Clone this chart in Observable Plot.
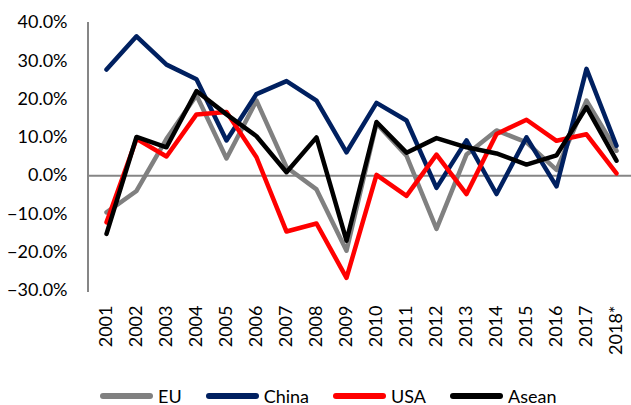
<!DOCTYPE html>
<html>
<head>
<meta charset="utf-8">
<script src="https://cdn.jsdelivr.net/npm/d3@7"></script>
<script src="https://cdn.jsdelivr.net/npm/@observablehq/plot@0.6"></script>
<style>
  html, body { margin: 0; padding: 0; background: #fff; }
  #chart svg { display: block; }
  .legend { display: flex; align-items: center; height: 19px; padding-left: 100px;
            font-family: Lato, "Open Sans", sans-serif; font-size: 18px; color: #000; }
  .legend .item { display: flex; align-items: center; margin-right: 24px; }
  .legend .sw { width: 53px; height: 6px; border-radius: 3px; margin-right: 5px; }
</style>
</head>
<body>
<div id="chart"></div>
<div class="legend" id="legend"></div>
<script>
// Year-on-year growth (%) by partner
const years = ["2001","2002","2003","2004","2005","2006","2007","2008","2009",
               "2010","2011","2012","2013","2014","2015","2016","2017","2018*"];
const eu    = [-9.6, -4.0, 9.6, 21.0, 4.5, 19.6, 2.2, -3.6, -19.6, 13.6, 5.2, -13.9, 5.5, 11.8, 8.7, 1.5, 19.6, 6.5];
const china = [27.7, 36.4, 29.0, 25.2, 9.2, 21.3, 24.7, 19.6, 6.1, 19.0, 14.4, -3.2, 9.2, -4.8, 10.0, -2.8, 27.9, 7.8];
const usa   = [-12.2, 9.6, 5.0, 16.0, 16.6, 4.8, -14.6, -12.5, -26.7, 0.2, -5.3, 5.5, -4.8, 10.9, 14.6, 9.1, 10.8, 0.6];
const asean = [-15.2, 10.1, 7.4, 22.1, 16.0, 10.3, 0.9, 10.0, -17.0, 14.0, 6.0, 9.8, 7.4, 5.8, 2.9, 5.3, 17.9, 3.9];

const seriesNames = ["EU", "China", "USA", "Asean"];
const seriesValues = [eu, china, usa, asean];
const seriesColors = ["#808080", "#002060", "#ff0000", "#000000"];
const yTicks = [-0.3, -0.2, -0.1, 0, 0.1, 0.2, 0.3, 0.4];

const rows = seriesNames.flatMap((name, s) =>
  years.map((year, i) => ({series: name, year, value: seriesValues[s][i] / 100})));

const font = "Lato, 'Open Sans', sans-serif";

// vertical axis line along the left edge of the frame
const leftAxisLine = (index, scales, values, dims) => {
  const line = document.createElementNS("http://www.w3.org/2000/svg", "line");
  const x = dims.marginLeft;
  line.setAttribute("x1", x); line.setAttribute("x2", x);
  line.setAttribute("y1", dims.marginTop);
  line.setAttribute("y2", dims.height - dims.marginBottom + 2);
  line.setAttribute("stroke", "#868686");
  line.setAttribute("stroke-width", 2);
  return line;
};

const chart = Plot.plot({
  width: 631,
  height: 386,
  marginTop: 22,
  marginLeft: 88,
  marginRight: 0,
  marginBottom: 96,
  style: {fontFamily: font, fontSize: "18px", color: "#000", background: "#fff", overflow: "visible"},
  x: {type: "point", domain: years, range: [88, 634], padding: 0.5, label: null},
  y: {domain: [-0.3, 0.4], label: null},
  color: {domain: seriesNames, range: seriesColors},
  marks: [
    Plot.axisY({ticks: yTicks, tickFormat: d3.format(".1%"), tickSize: 0, tickPadding: 21,
                label: null, fontSize: 18}),
    Plot.axisX({tickSize: 0, tickPadding: 15, tickRotate: -90, label: null, fontSize: 18}),
    Plot.ruleY([0], {stroke: "#868686", strokeWidth: 2}),
    leftAxisLine,
    ...seriesNames.map((name) =>
      Plot.line(rows.filter(d => d.series === name), {
        x: "year", y: "value", stroke: "series",
        strokeWidth: 4.5, strokeLinejoin: "round", strokeLinecap: "round"
      }))
  ]
});
document.getElementById("chart").appendChild(chart);

// legend below the chart
const legend = document.getElementById("legend");
seriesNames.forEach((name, i) => {
  const item = document.createElement("div");
  item.className = "item";
  const sw = document.createElement("div");
  sw.className = "sw";
  sw.style.background = seriesColors[i];
  const label = document.createElement("span");
  label.textContent = name;
  item.appendChild(sw); item.appendChild(label);
  legend.appendChild(item);
});
</script>
</body>
</html>
